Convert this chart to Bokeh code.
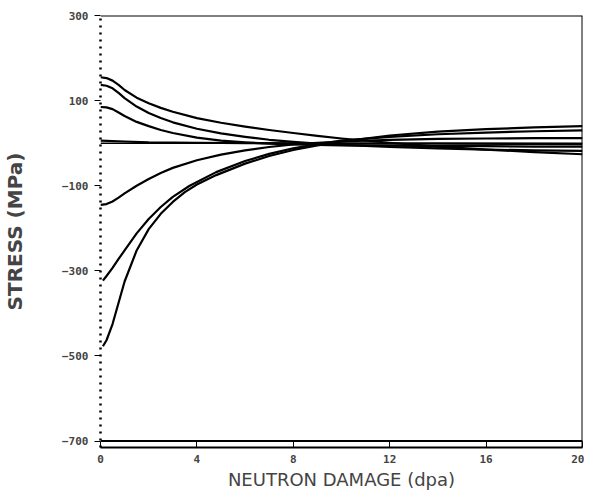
from bokeh.plotting import figure
from bokeh.models import FixedTicker, Span, Range1d
from bokeh.embed import file_html
from bokeh.resources import INLINE

# Neutron damage (dpa) and stress (MPa) for each curve
x_a = [0, 0.25, 0.5, 0.75, 1, 1.5, 2, 2.5, 3, 4, 5, 6, 7, 8, 9, 10, 12, 14, 16, 18, 20]
y_a = [155, 153, 147, 137, 125, 107, 94, 83, 74, 59, 48, 39, 31, 24, 17, 11, 1, -8, -15, -21, -26]
x_b = [0, 0.25, 0.5, 0.75, 1, 1.5, 2, 2.5, 3, 4, 5, 6, 7, 8, 9, 10, 12, 14, 16, 18, 20]
y_b = [137, 135, 129, 118, 106, 86, 71, 59, 49, 34, 23, 15, 8, 3, -1, -4, -9, -12, -15, -17, -18]
x_c = [0, 0.25, 0.5, 0.75, 1, 1.5, 2, 2.5, 3, 4, 5, 6, 7, 8, 10, 12, 14, 16, 18, 20]
y_c = [85, 84, 80, 72, 64, 50, 40, 31, 24, 13, 6, 2, -1, -3, -5, -6, -7, -7, -8, -8]
x_d = [0, 1, 2, 4, 6, 10, 14, 20]
y_d = [6, 4, 2, 1, 0, -1, -1, -2]
x_e = [0, 0.25, 0.5, 0.75, 1, 1.5, 2, 2.5, 3, 4, 5, 6, 7, 8, 9, 10, 12, 14, 16, 18, 20]
y_e = [-145, -143, -137, -128, -118, -100, -84, -70, -58, -40, -27, -17, -9, -3, 1, 4, 8, 10, 11, 12, 12]
x_f = [0.1, 0.25, 0.5, 0.75, 1, 1.5, 2, 2.5, 3, 3.7, 4.8, 6, 7, 8, 9, 10, 12, 14, 16, 18, 20]
y_f = [-323, -312, -293, -272, -252, -212, -178, -150, -126, -100, -68, -42, -25, -12, -2, 6, 15, 21, 25, 28, 30]
x_g = [0.1, 0.25, 0.5, 0.75, 1, 1.5, 2, 2.5, 3, 3.5, 4, 4.8, 6, 7, 8, 9, 10, 12, 14, 16, 18, 20]
y_g = [-477, -463, -425, -375, -325, -252, -202, -166, -138, -115, -97, -75, -48, -30, -16, -5, 4, 18, 27, 33, 37, 40]

x_ticks = [0, 4, 8, 12, 16, 20]
y_ticks = [-700, -500, -300, -100, 100, 300]

p = figure(width=584, height=495, output_backend="svg", toolbar_location=None,
           x_range=Range1d(0, 20), y_range=Range1d(-715, 300),
           min_border_left=100, min_border_right=2, min_border_top=15, min_border_bottom=48)
p.grid.visible = False
p.outline_line_color = None
p.background_fill_color = "white"

for xs, ys in [(x_a, y_a), (x_b, y_b), (x_c, y_c), (x_d, y_d), (x_e, y_e), (x_f, y_f), (x_g, y_g)]:
    p.line(xs, ys, line_color="black", line_width=2.2, line_join="round")

# frame lines
p.add_layout(Span(location=300, dimension="width", line_color="black", line_width=2))
p.add_layout(Span(location=-700, dimension="width", line_color="black", line_width=2))
p.add_layout(Span(location=20, dimension="height", line_color="black", line_width=2))
p.add_layout(Span(location=0, dimension="width", line_color="black", line_width=1.5))

p.xaxis.ticker = FixedTicker(ticks=x_ticks)
p.xaxis.axis_label = "NEUTRON DAMAGE (dpa)"
p.xaxis.axis_line_width = 2
p.xaxis.major_tick_in = 6
p.xaxis.major_tick_out = 0
p.xaxis.minor_tick_line_color = None
p.xaxis.major_label_text_font = "DejaVu Sans Mono"
p.xaxis.major_label_text_font_size = "11px"
p.xaxis.major_label_text_font_style = "bold"
p.xaxis.major_label_standoff = 7
p.xaxis.axis_label_text_font = "DejaVu Sans"
p.xaxis.axis_label_text_font_size = "18px"
p.xaxis.axis_label_text_font_style = "normal"
p.xaxis.axis_label_standoff = 3

p.yaxis.ticker = FixedTicker(ticks=y_ticks, minor_ticks=list(range(-700, 301, 20)))
p.yaxis.axis_label = "STRESS (MPa)"
p.yaxis.axis_line_width = 2.5
p.yaxis.axis_line_dash = "2 5"
p.yaxis.major_tick_in = 0
p.yaxis.major_tick_out = 6
p.yaxis.minor_tick_in = 0
p.yaxis.minor_tick_out = 0
p.yaxis.major_label_text_font = "DejaVu Sans Mono"
p.yaxis.major_label_text_font_size = "11px"
p.yaxis.major_label_text_font_style = "bold"
p.yaxis.major_label_standoff = 6
p.yaxis.axis_label_text_font = "DejaVu Sans"
p.yaxis.axis_label_text_font_size = "20px"
p.yaxis.axis_label_text_font_style = "bold"
p.yaxis.axis_label_standoff = 32

open("out.html", "w").write(file_html(p, INLINE))
